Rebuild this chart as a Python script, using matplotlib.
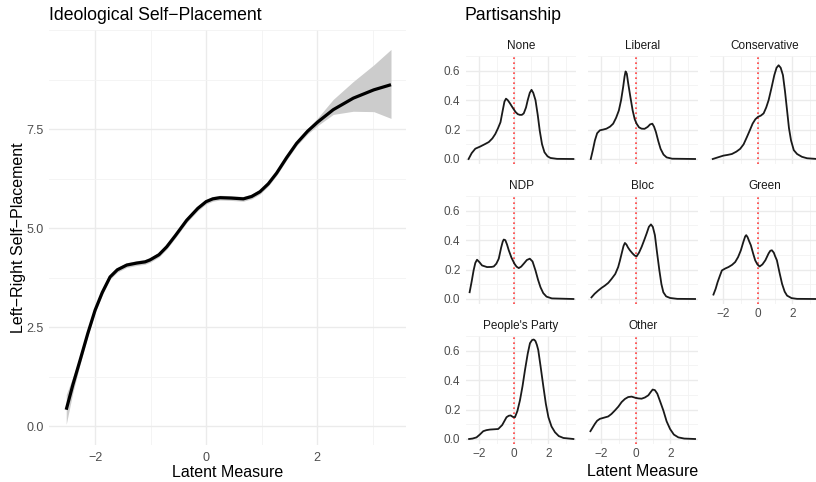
import numpy as np
import matplotlib.pyplot as plt
from matplotlib.ticker import MultipleLocator

plt.rcParams['font.family'] = ['Liberation Sans', 'DejaVu Sans']

#%% Data: loess fit of self-placement on latent measure
latent = [-2.52, -2.4, -2.27, -2.13, -2.0, -1.87, -1.73, -1.6, -1.43, -1.25, -1.1,
          -1.01, -0.85, -0.71, -0.55, -0.35, -0.15, 0.0, 0.12, 0.25, 0.45, 0.67,
          0.82, 0.97, 1.12, 1.27, 1.45, 1.63, 1.83, 2.02, 2.29, 2.65, 3.02, 3.33]
placement = [0.42, 1.05, 1.67, 2.35, 2.93, 3.38, 3.77, 3.95, 4.07, 4.12, 4.15,
             4.2, 4.33, 4.53, 4.82, 5.2, 5.5, 5.67, 5.74, 5.77, 5.76, 5.74,
             5.8, 5.92, 6.12, 6.39, 6.78, 7.14, 7.45, 7.69, 7.99, 8.28, 8.49, 8.62]
ci_low = [0.05, 0.85, 1.57, 2.28, 2.87, 3.32, 3.71, 3.89, 4.01, 4.06, 4.09,
          4.14, 4.27, 4.47, 4.76, 5.14, 5.44, 5.61, 5.68, 5.71, 5.7, 5.68,
          5.74, 5.86, 6.06, 6.33, 6.72, 7.08, 7.38, 7.6, 7.87, 7.95, 7.94, 7.77]
ci_high = [0.8, 1.25, 1.77, 2.42, 2.99, 3.44, 3.83, 4.01, 4.13, 4.18, 4.21,
           4.26, 4.39, 4.59, 4.88, 5.26, 5.56, 5.73, 5.8, 5.83, 5.82, 5.8,
           5.86, 5.98, 6.18, 6.45, 6.84, 7.2, 7.52, 7.8, 8.25, 8.7, 9.12, 9.51]

#%% Data: densities by party
parties = ['None', 'Liberal', 'Conservative', 'NDP', 'Bloc', 'Green',
           "People's Party", 'Other']

none_x = [-2.63, -2.45, -2.24, -1.95, -1.7, -1.46, -1.25, -1.08, -0.92, -0.78, -0.65,
          -0.55, -0.46, -0.36, -0.24, -0.08, 0.09, 0.22, 0.34, 0.46, 0.57, 0.7,
          0.8, 0.92, 1.02, 1.12, 1.25, 1.38, 1.5, 1.63, 1.77, 1.95, 2.12, 2.5, 3.45]
none_y = [0.0, 0.04, 0.07, 0.085, 0.1, 0.115, 0.14, 0.17, 0.21, 0.25, 0.33,
          0.39, 0.41, 0.4, 0.38, 0.35, 0.32, 0.305, 0.3, 0.3, 0.31, 0.35,
          0.4, 0.45, 0.47, 0.45, 0.4, 0.3, 0.19, 0.1, 0.046, 0.018, 0.007, 0.001, 0.0]

lib_x = [-2.62, -2.5, -2.38, -2.25, -2.09, -1.9, -1.71, -1.5, -1.32, -1.15, -0.99,
         -0.86, -0.74, -0.66, -0.6, -0.53, -0.45, -0.32, -0.19, -0.07, 0.04, 0.18,
         0.33, 0.5, 0.68, 0.82, 0.95, 1.05, 1.16, 1.3, 1.43, 1.6, 1.78, 2.1, 3.43]
lib_y = [0.0, 0.06, 0.126, 0.175, 0.195, 0.2, 0.206, 0.22, 0.24, 0.28, 0.33,
         0.4, 0.49, 0.56, 0.595, 0.58, 0.515, 0.42, 0.33, 0.27, 0.24, 0.215,
         0.206, 0.205, 0.218, 0.235, 0.24, 0.22, 0.183, 0.12, 0.069, 0.03, 0.011, 0.002, 0.0]

con_x = [-2.62, -2.3, -2.0, -1.75, -1.51, -1.25, -1.03, -0.83, -0.64, -0.47, -0.31,
         -0.15, 0.0, 0.17, 0.33, 0.48, 0.62, 0.78, 0.95, 1.08, 1.2, 1.32,
         1.45, 1.57, 1.69, 1.8, 1.92, 2.08, 2.27, 2.55, 2.85, 3.45]
con_y = [0.0, 0.012, 0.023, 0.028, 0.034, 0.05, 0.069, 0.1, 0.149, 0.195, 0.24,
         0.27, 0.286, 0.295, 0.31, 0.35, 0.4, 0.48, 0.57, 0.62, 0.637, 0.62,
         0.57, 0.46, 0.33, 0.21, 0.126, 0.06, 0.034, 0.015, 0.005, 0.0]

ndp_x = [-2.57, -2.45, -2.34, -2.24, -2.14, -2.0, -1.85, -1.56, -1.3, -1.17, -1.02,
         -0.88, -0.74, -0.65, -0.59, -0.5, -0.4, -0.3, -0.14, 0.03, 0.15, 0.28,
         0.42, 0.57, 0.75, 0.92, 1.08, 1.25, 1.4, 1.54, 1.7, 1.89, 2.2, 3.45]
ndp_y = [0.046, 0.12, 0.194, 0.245, 0.267, 0.25, 0.228, 0.217, 0.218, 0.221, 0.24,
         0.274, 0.35, 0.39, 0.404, 0.4, 0.37, 0.331, 0.28, 0.24, 0.22, 0.21,
         0.22, 0.24, 0.265, 0.274, 0.255, 0.194, 0.13, 0.08, 0.04, 0.016, 0.004, 0.0]

bloc_x = [-2.58, -2.4, -2.19, -2.0, -1.8, -1.6, -1.41, -1.2, -1.03, -0.93, -0.83,
          -0.72, -0.64, -0.55, -0.46, -0.35, -0.2, -0.07, 0.04, 0.18, 0.33, 0.48,
          0.62, 0.75, 0.87, 0.98, 1.1, 1.22, 1.36, 1.48, 1.59, 1.75, 1.98, 2.4, 3.43]
bloc_y = [0.011, 0.035, 0.057, 0.075, 0.091, 0.11, 0.137, 0.17, 0.217, 0.26, 0.308,
          0.36, 0.381, 0.37, 0.35, 0.331, 0.31, 0.295, 0.29, 0.315, 0.354, 0.4,
          0.445, 0.49, 0.507, 0.49, 0.434, 0.32, 0.194, 0.1, 0.046, 0.018, 0.007, 0.001, 0.0]

green_x = [-2.58, -2.45, -2.34, -2.2, -2.09, -1.9, -1.71, -1.5, -1.32, -1.15, -0.99,
           -0.84, -0.74, -0.68, -0.6, -0.5, -0.41, -0.28, -0.16, -0.03, 0.1, 0.26,
           0.43, 0.62, 0.72, 0.81, 0.92, 1.0, 1.1, 1.25, 1.4, 1.55, 1.69, 1.95, 2.27, 3.45]
green_y = [0.03, 0.07, 0.114, 0.16, 0.194, 0.207, 0.217, 0.232, 0.251, 0.285, 0.331,
           0.39, 0.425, 0.434, 0.42, 0.39, 0.365, 0.31, 0.263, 0.235, 0.221, 0.235,
           0.263, 0.31, 0.328, 0.331, 0.315, 0.29, 0.263, 0.18, 0.103, 0.05, 0.023, 0.006, 0.001, 0.0]

ppc_x = [-2.6, -2.4, -2.17, -1.98, -1.78, -1.6, -1.4, -1.15, -0.91, -0.68, -0.43,
         -0.3, -0.19, -0.06, 0.06, 0.2, 0.35, 0.5, 0.64, 0.8, 0.93, 1.05,
         1.13, 1.18, 1.25, 1.33, 1.41, 1.55, 1.71, 1.85, 2.0, 2.18, 2.38, 2.6, 2.87, 3.45]
ppc_y = [0.0, 0.003, 0.011, 0.03, 0.053, 0.06, 0.064, 0.066, 0.068, 0.095, 0.148,
         0.158, 0.16, 0.15, 0.148, 0.19, 0.263, 0.36, 0.468, 0.58, 0.651, 0.672,
         0.676, 0.674, 0.665, 0.64, 0.605, 0.49, 0.354, 0.24, 0.148, 0.085, 0.046, 0.02, 0.007, 0.0]

oth_x = [-2.64, -2.5, -2.38, -2.25, -2.09, -1.85, -1.61, -1.42, -1.22, -1.02, -0.83,
         -0.64, -0.45, -0.25, -0.06, 0.13, 0.33, 0.52, 0.72, 0.85, 0.97, 1.1,
         1.24, 1.42, 1.59, 1.78, 1.98, 2.2, 2.46, 2.8, 3.43]
oth_y = [0.053, 0.08, 0.103, 0.124, 0.137, 0.145, 0.153, 0.17, 0.194, 0.22, 0.251,
         0.272, 0.285, 0.288, 0.281, 0.276, 0.274, 0.282, 0.297, 0.318, 0.336, 0.332,
         0.308, 0.25, 0.194, 0.12, 0.068, 0.03, 0.011, 0.003, 0.0]

dens = [(none_x, none_y), (lib_x, lib_y), (con_x, con_y), (ndp_x, ndp_y),
        (bloc_x, bloc_y), (green_x, green_y), (ppc_x, ppc_y), (oth_x, oth_y)]

#%% Style helpers
W, H = 816, 482
TICK_COL = '#4d4d4d'


def box(left, top, width, height):
    # pixel box -> figure fraction
    return [left / W, (H - top - height) / H, width / W, height / H]


def minimal(ax, tsize):
    for s in ax.spines.values():
        s.set_visible(False)
    ax.grid(which='major', color='#ebebeb', linewidth=1.0)
    ax.grid(which='minor', color='#f3f3f3', linewidth=0.6)
    ax.set_axisbelow(True)
    ax.tick_params(which='both', length=0, labelsize=tsize, labelcolor=TICK_COL)


#%% Figure
fig = plt.figure(figsize=(W / 100, H / 100), dpi=100)

# Left panel
ax = fig.add_axes(box(49, 30, 357, 415))
minimal(ax, 9)
ax.fill_between(latent, ci_low, ci_high, color='#cccccc', linewidth=0)
ax.plot(latent, placement, color='black', linewidth=2.3, solid_capstyle='butt',
        solid_joinstyle='round')
ax.set_xlim(-2.83, 3.60)
ax.set_ylim(-0.47, 10.0)
ax.xaxis.set_minor_locator(MultipleLocator(1))
ax.yaxis.set_minor_locator(MultipleLocator(1.25))
ax.set_yticks([0, 2.5, 5, 7.5])
ax.set_yticklabels(['0.0', '2.5', '5.0', '7.5'])
ax.set_xticks([-2, 0, 2])
ax.set_xticklabels(['\u22122', '0', '2'])
ax.tick_params(axis='x', pad=5)
ax.tick_params(axis='y', pad=4)
ax.set_xlabel('Latent Measure', fontsize=11.5, labelpad=1)
ax.set_ylabel('Left\u2212Right Self\u2212Placement', fontsize=11.5, labelpad=0)
fig.text(49 / W, 1 - 15 / H, 'Ideological Self\u2212Placement', fontsize=12.7,
         ha='left', va='center')

# Facets
col_left = [466, 588, 710]
row_top = [56, 196, 336]
for i, name in enumerate(parties):
    r, c = divmod(i, 3)
    fx = fig.add_axes(box(col_left[c], row_top[r], 110, 108))
    minimal(fx, 8.5)
    fx.axvline(0, color='#ff4040', linestyle=(0, (1, 2)), linewidth=1.2)
    x, y = dens[i]
    fx.plot(x, y, color='#1a1a1a', linewidth=1.3, solid_joinstyle='round')
    fx.set_xlim(-2.78, 3.6)
    fx.set_ylim(-0.034, 0.70)
    fx.xaxis.set_minor_locator(MultipleLocator(1))
    fx.set_yticks([0, 0.2, 0.4, 0.6])
    fx.yaxis.set_minor_locator(MultipleLocator(0.1))
    fx.set_xticks([-2, 0, 2])
    fx.set_title(name, fontsize=8.5, color='#1a1a1a', pad=5)
    if c == 0:
        fx.set_yticklabels(['0.0', '0.2', '0.4', '0.6'])
        fx.tick_params(axis='y', pad=4)
    else:
        fx.set_yticklabels([])
    if r == 2 or (r == 1 and c == 2):
        fx.set_xticklabels(['\u22122', '0', '2'])
        fx.tick_params(axis='x', pad=3)
    else:
        fx.set_xticklabels([])

fig.text(465 / W, 1 - 15 / H, 'Partisanship', fontsize=12.7, ha='left', va='center')
fig.text(643 / W, 1 - 472 / H, 'Latent Measure', fontsize=11.5, ha='center',
         va='center')

fig.savefig('out.png', dpi=100)
